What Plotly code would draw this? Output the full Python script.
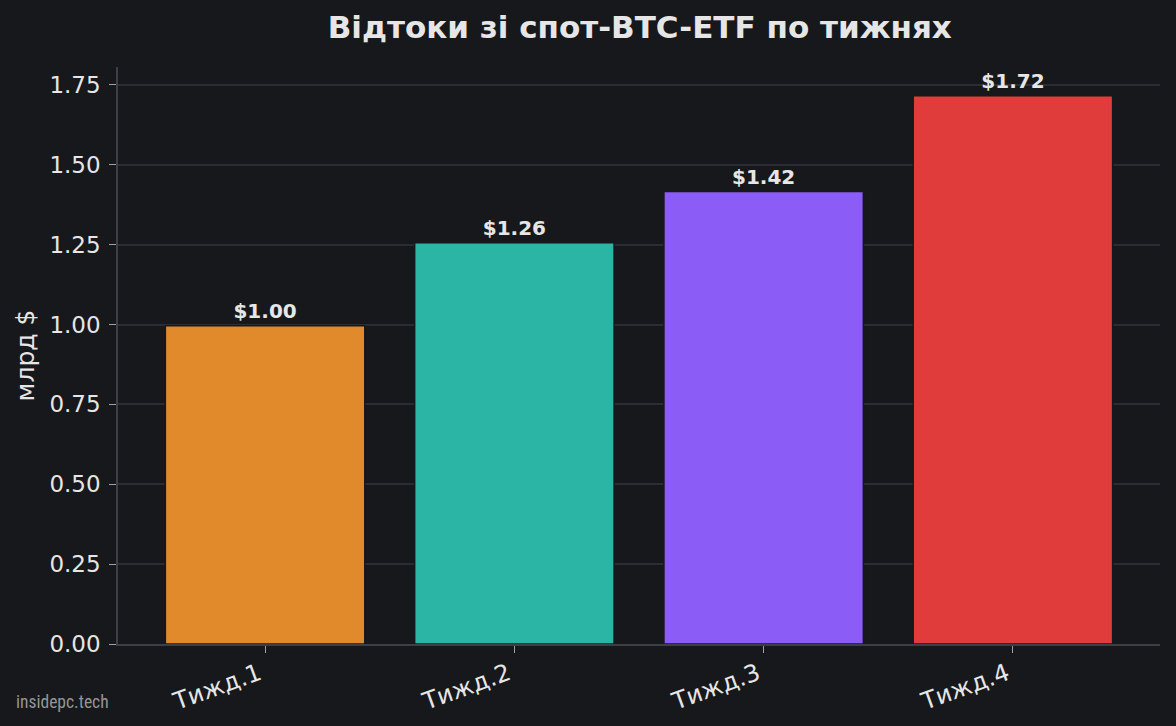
import plotly.graph_objects as go

# weekly outflows from spot BTC ETFs, bn $
weeks = ["Тижд.1", "Тижд.2", "Тижд.3", "Тижд.4"]
outflows = [0.996, 1.256, 1.416, 1.716]
bar_colors = ["#E08A2C", "#2BB5A5", "#8B5CF6", "#E03C3C"]
y_ticks = [0.0, 0.25, 0.5, 0.75, 1.0, 1.25, 1.5, 1.75]

BG = "#16181C"
TXT = "#E6E6E6"
GRID = "#2A2D32"
SPINE = "#3C3F46"

fig = go.Figure()

fig.add_trace(go.Bar(
    x=list(range(len(weeks))), y=outflows,
    width=0.8,
    marker=dict(color=bar_colors, line=dict(color=BG, width=1.5)),
    text=[f"${v:.2f}" for v in outflows],
    textposition="outside",
    textfont=dict(family="DejaVu Sans", size=20, color=TXT, weight="bold"),
    cliponaxis=False,
    hoverinfo="skip",
))

fig.update_layout(
    width=1176, height=726,
    paper_bgcolor=BG, plot_bgcolor=BG,
    margin=dict(l=118, r=16, t=67, b=82),
    showlegend=False,
    font=dict(family="DejaVu Sans", color=TXT),
    title=dict(
        text="<b>Відтоки зі спот-BTC-ETF по тижнях</b>",
        x=0.544, xanchor="center", y=0.963, yanchor="middle",
        font=dict(size=31, color=TXT),
    ),
    bargap=0.2,
)

fig.update_xaxes(
    range=[-0.59, 3.59],
    tickvals=list(range(len(weeks))), ticktext=weeks,
    tickangle=-20,
    tickfont=dict(size=24, color=TXT),
    ticklabelshift=-6, ticklabelstandoff=-2,
    automargin=False,
    showgrid=False, zeroline=False,
    showline=True, linecolor=SPINE, linewidth=1.5,
    ticks="outside", ticklen=7, tickcolor="#A0A0A0",
)

fig.update_yaxes(
    range=[0, 1.806],
    tickvals=y_ticks, ticktext=[f"{t:.2f}" for t in y_ticks],
    tickfont=dict(size=23, color=TXT),
    ticklabelstandoff=4,
    automargin=False,
    title=dict(text="млрд $", font=dict(size=25, color=TXT), standoff=8),
    showgrid=True, gridcolor=GRID, gridwidth=1.5,
    zeroline=False,
    showline=True, linecolor=SPINE, linewidth=1.5,
    ticks="outside", ticklen=7, tickcolor="#A0A0A0",
)

fig.add_annotation(
    text="insidepc.tech", xref="paper", yref="paper",
    x=-0.0995, y=-0.101, xanchor="left", yanchor="middle",
    showarrow=False,
    font=dict(family="Liberation Sans Narrow, Roboto Condensed, Liberation Sans",
              size=17.5, color="#959595"),
)

fig.write_html(
    "out.html",
    config={"displayModeBar": False},
    post_script="document.body.style.margin='0';",
)
